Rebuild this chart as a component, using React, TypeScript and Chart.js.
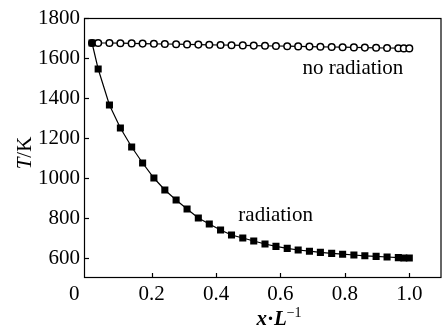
import React, { useEffect, useRef } from "react";
import { Chart, registerables } from "chart.js";

Chart.register(...registerables);

const xPositions = [
  0.015, 0.034, 0.069, 0.103, 0.138, 0.172, 0.207, 0.241, 0.276, 0.31, 0.345,
  0.379, 0.414, 0.448, 0.483, 0.517, 0.552, 0.586, 0.621, 0.655, 0.69, 0.724,
  0.759, 0.793, 0.828, 0.862, 0.897, 0.931, 0.966, 0.983, 1.0,
];
const radiationT = [
  1675, 1545, 1365, 1250, 1155, 1075, 1000, 940, 890, 845, 800, 770, 740, 715,
  700, 685, 670, 658, 648, 640, 634, 628, 623, 619, 615, 611, 608, 605, 602,
  600, 600,
];
const noRadiationT = [
  1675, 1675, 1675, 1674, 1673, 1672, 1671, 1670, 1669, 1668, 1667, 1666, 1665,
  1664, 1663, 1662, 1661, 1660, 1659, 1658, 1657, 1656, 1655, 1654, 1653, 1652,
  1651, 1650, 1649, 1648, 1648,
];
const yTickValues = [600, 800, 1000, 1200, 1400, 1600, 1800];
const xTickValues = [0, 0.2, 0.4, 0.6, 0.8, 1.0];
const xTickLabels = ["0", "0.2", "0.4", "0.6", "0.8", "1.0"];
const seriesLabels = ["radiation", "no radiation"];
const labelAnchors = [
  { x: 0.585, y: 815 },
  { x: 0.825, y: 1550 },
];

const FONT = "'Liberation Serif', 'DejaVu Serif', serif";

export default function App() {
  const ref = useRef<HTMLCanvasElement | null>(null);

  useEffect(() => {
    const canvas = ref.current;
    if (!canvas) return;

    const decor = {
      id: "decor",
      afterDraw(chart: any) {
        const ctx = chart.ctx;
        const { left, right, top, bottom } = chart.chartArea;
        const xs = chart.scales.x;
        const ys = chart.scales.y;
        ctx.save();
        ctx.strokeStyle = "#000";
        ctx.lineWidth = 1.2;
        ctx.strokeRect(left + 0.5, top + 0.5, right - left - 1, bottom - top - 1);
        // inward ticks
        xTickValues.forEach((v) => {
          if (v === 0) return;
          const px = Math.round(xs.getPixelForValue(v)) + 0.5;
          ctx.beginPath();
          ctx.moveTo(px, bottom);
          ctx.lineTo(px, bottom - 5);
          ctx.stroke();
        });
        yTickValues.forEach((v) => {
          const py = Math.round(ys.getPixelForValue(v)) + 0.5;
          ctx.beginPath();
          ctx.moveTo(left, py);
          ctx.lineTo(left + 5, py);
          ctx.stroke();
        });
        ctx.fillStyle = "#000";
        // origin label, set left of the axis corner
        ctx.font = `21px ${FONT}`;
        ctx.textAlign = "center";
        ctx.textBaseline = "middle";
        ctx.fillText(xTickLabels[0], xs.getPixelForValue(xTickValues[0]) - 13, 294);
        // series labels
        seriesLabels.forEach((s, i) => {
          ctx.fillText(
            s,
            xs.getPixelForValue(labelAnchors[i].x),
            ys.getPixelForValue(labelAnchors[i].y)
          );
        });
        // y title: T/K
        ctx.save();
        ctx.translate(25, 153);
        ctx.rotate(-Math.PI / 2);
        ctx.textAlign = "left";
        ctx.textBaseline = "middle";
        ctx.font = `italic 21px ${FONT}`;
        const wT = ctx.measureText("T").width;
        ctx.font = `21px ${FONT}`;
        const wR = ctx.measureText("/K").width;
        const start = -(wT + wR) / 2;
        ctx.font = `italic 21px ${FONT}`;
        ctx.fillText("T", start, 0);
        ctx.font = `21px ${FONT}`;
        ctx.fillText("/K", start + wT, 0);
        ctx.restore();
        // x title: x·L^-1
        ctx.textAlign = "left";
        ctx.textBaseline = "alphabetic";
        const parts = [
          { t: "x", f: `italic bold 21px ${FONT}`, dy: 0 },
          { t: "\u00b7", f: `bold 21px ${FONT}`, dy: 0 },
          { t: "L", f: `italic bold 21px ${FONT}`, dy: 0 },
          { t: "\u22121", f: `14px ${FONT}`, dy: -8 },
        ];
        let total = 0;
        parts.forEach((p) => {
          ctx.font = p.f;
          total += ctx.measureText(p.t).width;
        });
        let cx = 279 - total / 2;
        const base = 325;
        parts.forEach((p) => {
          ctx.font = p.f;
          ctx.fillText(p.t, cx, base + p.dy);
          cx += ctx.measureText(p.t).width;
        });
        ctx.restore();
      },
    };

    const chart = new Chart(canvas, {
      type: "line",
      data: {
        datasets: [
          {
            label: seriesLabels[0],
            data: xPositions.map((x, i) => ({ x, y: radiationT[i] })),
            borderColor: "#000",
            borderWidth: 1.2,
            backgroundColor: "#000",
            pointStyle: "rect",
            pointRadius: 5,
            pointBorderWidth: 0,
            pointBackgroundColor: "#000",
            tension: 0,
          },
          {
            label: seriesLabels[1],
            data: xPositions.map((x, i) => ({ x, y: noRadiationT[i] })),
            borderColor: "#000",
            borderWidth: 1.2,
            pointStyle: "circle",
            pointRadius: 3.3,
            pointBorderWidth: 1.5,
            pointBorderColor: "#000",
            pointBackgroundColor: "#fff",
            tension: 0,
          },
        ],
      },
      options: {
        responsive: false,
        animation: false,
        layout: { padding: { top: 18, right: 3, left: 0, bottom: 0 } },
        plugins: {
          legend: { display: false },
          tooltip: { enabled: false },
        },
        scales: {
          x: {
            type: "linear",
            min: -0.01,
            max: 1.1,
            grid: { display: false, drawTicks: false },
            border: { display: false },
            afterFit: (s: any) => {
              s.height = 52;
            },
            afterBuildTicks: (s: any) => {
              s.ticks = xTickValues.map((v) => ({ value: v }));
            },
            ticks: {
              color: "#000",
              padding: 4,
              maxRotation: 0,
              autoSkip: false,
              font: { family: FONT, size: 21 },
              callback: (v: any) => {
                const i = xTickValues.indexOf(Number(v));
                return i > 0 ? xTickLabels[i] : "";
              },
            },
          },
          y: {
            type: "linear",
            min: 500,
            max: 1800,
            grid: { display: false, drawTicks: false },
            border: { display: false },
            afterFit: (s: any) => {
              s.width = 84;
            },
            afterBuildTicks: (s: any) => {
              s.ticks = yTickValues.map((v) => ({ value: v }));
            },
            ticks: {
              color: "#000",
              padding: 4,
              autoSkip: false,
              font: { family: FONT, size: 21 },
              callback: (v: any) => String(v),
            },
          },
        },
      },
      plugins: [decor],
    });

    return () => chart.destroy();
  }, []);

  return (
    <div style={{ position: "absolute", left: 0, top: 0, width: 447, height: 330, background: "#fff" }}>
      <canvas ref={ref} width={447} height={330} style={{ display: "block" }} />
    </div>
  );
}
